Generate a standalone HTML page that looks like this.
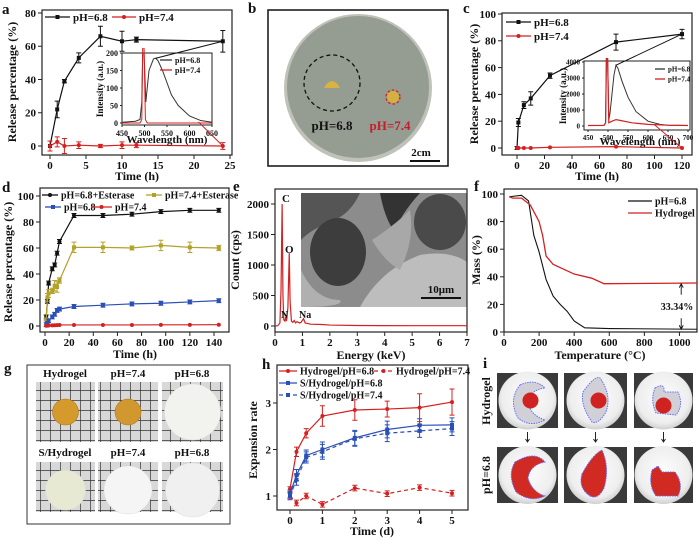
<!DOCTYPE html>
<html><head><meta charset="utf-8">
<style>
html,body{margin:0;padding:0;background:#fff;}
svg{display:block;font-family:"Liberation Serif",serif;font-weight:bold;}
</style></head>
<body>
<svg id="fig" width="700" height="541" viewBox="0 0 700 541" xmlns="http://www.w3.org/2000/svg">
<defs>
<pattern id="grid" width="10" height="10" patternUnits="userSpaceOnUse"><rect width="10" height="10" fill="#d8d8d8"/><path d="M0 0H10M0 0V10" stroke="#333" stroke-width="1.4"/></pattern>
<radialGradient id="plate" cx="50%" cy="45%" r="55%"><stop offset="0" stop-color="#fdfdfd"/><stop offset="0.8" stop-color="#eeeeee"/><stop offset="1" stop-color="#cfcfcf"/></radialGradient>
<clipPath id="clipA"><rect x="122" y="48" width="90" height="77"/></clipPath>
<clipPath id="clipC"><rect x="584" y="58" width="106" height="72"/></clipPath>
</defs>
</svg>
<script>
// ---------- data ----------
const aTime=[0,1,2,4,7,10,12,24];
const a68=[0,22,39,53,66,63,64,63];
const a68err=[3,5,1,3,6,6,1.5,6.5];
const a74=[0,2.5,0,0.5,0,0.5,0.5,0];
const a74err=[3,3,4.5,2,1,2,1.5,2];
const aInsetWl68=[450,480,490,494,496,499,503,510,520,525,530,540,550,560,575,600,625,650];
const aInsetI68=[2,5,10,60,200,200,60,150,183,185,178,150,115,80,50,20,7,2];
const aInsetWl74=[450,490,494,496,499,502,506,650];
const aInsetI74=[0,0,10,215,215,10,0,0];

const cTime=[0,1,5,10,24,72,120];
const c68=[0,19,32,37,54,79,85];
const c68err=[1,3,2.5,5,2,6,3.5];
const c74=[0,0,0,0,0.5,1,0];
const cInsetWl68=[450,490,494,496,499,502,505,510,515,520,525,535,550,570,600,630,650,700];
const cInsetI68=[30,40,200,4300,4300,400,800,2000,3200,3800,3600,2800,1800,900,300,100,50,30];
const cInsetWl74=[450,490,494,496,499,502,510,520,530,560,600,650,700];
const cInsetI74=[30,40,200,4300,4300,200,300,400,350,200,100,50,30];

const dTime=[1,2,3,6,8,10,12,24,48,72,96,120,144];
const d68E=[7,19,33,44,47,56,65,85,85,86,88,89,89];
const d74E=[5,22,25,27,31,30,35,60.5,60.5,60,62,60.5,60];
const d74Eerr=[1,3,3,2,4,4,2,4,4,1.5,4,4,2];
const d68=[1,2,4,7,9,12,13,15,16,17,17.5,18.5,19.5];
const d74=[0.2,0.3,0.4,0.5,0.6,0.7,0.8,0.8,0.8,0.8,0.9,0.9,1];

const eEnergy=[0,0.1,0.18,0.22,0.26,0.29,0.32,0.36,0.39,0.42,0.47,0.52,0.55,0.6,0.65,0.7,0.75,0.8,0.85,0.9,0.95,1.04,1.1,1.3,1.7,2,3,5,7];
const eCount=[0,5,50,600,2000,500,100,80,150,80,300,1200,400,80,60,90,50,70,60,50,60,120,50,30,25,15,8,5,5];

const fTemp68=[30,100,140,170,200,240,280,320,360,400,460,600,1100];
const fMass68=[98,99,95,70,58,38,26,20,15,8,3,2.5,2];
const fTempH=[30,50,100,150,200,220,240,280,400,500,570,1100];
const fMassH=[98,97,97,92,80,70,55,49,42,39,35,35.5];

const hTime=[0,0.2,0.5,1,2,3,4,5];
const hHyd68=[1.15,1.95,2.35,2.72,2.85,2.87,2.9,3.02];
const hHyd68err=[0.05,0.1,0.1,0.22,0.22,0.17,0.3,0.28];
const hHyd74=[1.0,0.85,1.0,0.82,1.17,1.05,1.18,1.06];
const hS68=[1.05,1.45,1.87,2.0,2.25,2.43,2.52,2.53];
const hS74=[1.0,1.35,1.83,1.95,2.23,2.35,2.4,2.45];
const hErrS=[0.08,0.12,0.12,0.16,0.16,0.18,0.14,0.15];

// ---------- helpers ----------
const NS="http://www.w3.org/2000/svg";
const svg=document.getElementById('fig');
function mk(tag,attrs,parent){const e=document.createElementNS(NS,tag);for(const k in attrs)e.setAttribute(k,attrs[k]);(parent||svg).appendChild(e);return e;}
function txt(s,x,y,fs,anchor,fill,rot,name){
  const t=mk('text',{x:x,y:y,'font-size':fs,'text-anchor':anchor||'start',fill:fill||'#111'});
  if(rot) t.setAttribute('transform','rotate(-90 '+x+' '+y+')');
  t.textContent=s;
  
  
  return t;
}
function lin(d0,d1,r0,r1){return v=>r0+(v-d0)*(r1-r0)/(d1-d0);}
function axes(c){
  const g=mk('g',{});
  
  
  const r=mk('rect',{x:c.x0,y:c.y0,width:c.x1-c.x0,height:c.y1-c.y0,fill:'none',stroke:'#222','stroke-width':c.sw||1.2},g);
  
  
  c.xt.forEach(v=>{const X=c.sx(v);mk('line',{x1:X,x2:X,y1:c.y1,y2:c.y1+(c.tl||4),stroke:'#222','stroke-width':1},g);
    txt(String(v),X,c.y1+c.fs+3,c.fs,'middle','#111',0,c.name+'-x-tick-label');});
  c.yt.forEach(v=>{const Y=c.sy(v);mk('line',{x1:c.x0-(c.tl||4),x2:c.x0,y1:Y,y2:Y,stroke:'#222','stroke-width':1},g);
    txt(String(v),c.x0-(c.tl||4)-2,Y+c.fs*0.35,c.fs,'end','#111',0,c.name+'-y-tick-label');});
}
function line(sx,sy,xs,ys,color,w,dash,name){
  const p=mk('polyline',{points:xs.map((x,i)=>sx(x)+','+sy(ys[i])).join(' '),fill:'none',stroke:color,'stroke-width':w||1.2});
  if(dash)p.setAttribute('stroke-dasharray',dash);
  
  
  return p;
}
function series(sx,sy,xs,ys,errs,color,marker,dash,name){
  line(sx,sy,xs,ys,color,1.2,dash,name+'-line');
  xs.forEach((x,i)=>{
    const X=sx(x),Y=sy(ys[i]);
    if(errs){const e=errs[i];const y1=sy(ys[i]+e),y2=sy(ys[i]-e);
      const eb=mk('path',{d:'M'+X+' '+y1+'V'+y2+'M'+(X-2.5)+' '+y1+'H'+(X+2.5)+'M'+(X-2.5)+' '+y2+'H'+(X+2.5),stroke:color,'stroke-width':1,fill:'none'});
      
      }
    let m;
    if(marker==='sq') m=mk('rect',{x:X-2,y:Y-2,width:4,height:4,fill:color});
    else m=mk('circle',{cx:X,cy:Y,r:2,fill:color});
    
    
  });
}
function legend(x1,x2,y,color,label,fs,dash,marker,name){
  const l=mk('line',{x1:x1,x2:x2,y1:y,y2:y,stroke:color,'stroke-width':1.3});
  if(dash)l.setAttribute('stroke-dasharray',dash);
  
  
  if(marker){const m=marker==='sq'?mk('rect',{x:(x1+x2)/2-2,y:y-2,width:4,height:4,fill:color}):mk('circle',{cx:(x1+x2)/2,cy:y,r:2,fill:color});
    
    }
  txt(label,x2+3,y+fs*0.35,fs,'start','#111',0,name+'-text');
}
const RED='#d42020',BLK='#111',BLUE='#2a4fb5',YEL='#b3a22a';

// ---------- panel letters ----------
[['a',2,14],['b',248,13],['c',463,13],['d',2,192],['e',233,191],['f',474,191],['g',4,373],['h',262,369],['i',483,368]].forEach(p=>txt(p[0],p[1],p[2],15,'start','#111',0,'panel-letter-'+p[0]));

// ---------- panel a ----------
{const sx=lin(0,25,50,230),sy=lin(0,80,146,13);
axes({name:'panel-a',x0:42,x1:232,y0:10,y1:155,sx,sy,xt:[0,5,10,15,20,25],yt:[0,20,40,60,80],fs:11});
txt('Release percentage (%)',16,82,12,'middle','#111',1,'panel-a-y-title');
txt('Time (h)',137,180,12,'middle','#111',0,'panel-a-x-title');
series(sx,sy,aTime,a68,a68err,BLK,'sq',null,'a-ph68');
series(sx,sy,aTime,a74,a74err,RED,'c',null,'a-ph74');
legend(45,70,17,BLK,'pH=6.8',11,null,'sq','a-legend-ph68');
legend(112,136,17,RED,'pH=7.4',11,null,'c','a-legend-ph74');
const ix=lin(450,650,122,212),iy=lin(0,200,123,53);
mk('rect',{x:122,y:53,width:90,height:72,fill:'#fff',stroke:'#222','stroke-width':1});
axes({name:'panel-a-inset',x0:122,x1:212,y0:53,y1:125,sx:ix,sy:iy,xt:[450,500,550,600,650],yt:[0,50,100,150,200],fs:8,tl:2,sw:1});
const l1=line(ix,iy,aInsetWl68,aInsetI68,'#333',1,null,'a-inset-ph68');
l1.setAttribute('clip-path','url(#clipA)');
const l2=line(ix,iy,aInsetWl74,aInsetI74,RED,1,null,'a-inset-ph74');
l2.setAttribute('clip-path','url(#clipA)');
txt('Intensity (a.u.)',103,89,9,'middle','#111',1,'a-inset-y-title');
txt('Wavelength (nm)',167,143,11,'middle','#111',0,'a-inset-x-title');
legend(160,172,60,'#333','pH=6.8',8,null,null,'a-inset-legend-ph68');
legend(160,172,70,RED,'pH=7.4',8,null,null,'a-inset-legend-ph74');
mk('line',{x1:ix(525),y1:iy(185),x2:sx(24),y2:sy(63),stroke:BLK,'stroke-width':1});
mk('line',{x1:ix(620),y1:iy(3),x2:sx(24),y2:sy(0),stroke:RED,'stroke-width':1});}

// ---------- panel b ----------
{const g=mk('g',{});
mk('rect',{x:268,y:10,width:180,height:156,fill:'#fff',stroke:'#111','stroke-width':1.5},g);
mk('circle',{cx:358,cy:88,r:74,fill:'#bfc2b8'},g);
mk('circle',{cx:358,cy:87,r:71,fill:'#959c91'},g);
mk('circle',{cx:332,cy:83,r:28,fill:'none',stroke:'#111','stroke-width':1.3,'stroke-dasharray':'4 3'},g);
mk('path',{d:'M324 88 Q332 74 340 88 Z',fill:'#d8b340'},g);
mk('circle',{cx:393,cy:97,r:6,fill:'#d4b040'},g);
mk('circle',{cx:393,cy:97,r:7,fill:'none',stroke:RED,'stroke-width':1.3,'stroke-dasharray':'2.5 2'},g);
txt('pH=6.8',332,130,13,'middle','#111',0,'b-label-ph68');
txt('pH=7.4',390,130,13,'middle','#c0202a',0,'b-label-ph74');
txt('2cm',421,156,11,'middle','#111',0,'b-scale-label');
mk('line',{x1:410,x2:440,y1:161,y2:161,stroke:'#111','stroke-width':2},g);}

// ---------- panel c ----------
{const sx=lin(0,120,517,682),sy=lin(0,100,148,14);
axes({name:'panel-c',x0:502,x1:692,y0:13,y1:155,sx,sy,xt:[0,20,40,60,80,100,120],yt:[0,20,40,60,80,100],fs:11});
txt('Release percentage (%)',478,84,12,'middle','#111',1,'panel-c-y-title');
txt('Time (h)',597,180,12,'middle','#111',0,'panel-c-x-title');
series(sx,sy,cTime,c68,c68err,BLK,'sq',null,'c-ph68');
series(sx,sy,cTime,c74,null,RED,'c',null,'c-ph74');
legend(506,531,22,BLK,'pH=6.8',11,null,'sq','c-legend-ph68');
legend(506,531,36,RED,'pH=7.4',11,null,'c','c-legend-ph74');
const ix=lin(450,700,588,688),iy=lin(0,4000,126,62);
mk('rect',{x:584,y:61,width:106,height:69,fill:'#fff',stroke:'#222','stroke-width':1});
axes({name:'panel-c-inset',x0:584,x1:690,y0:61,y1:130,sx:ix,sy:iy,xt:[450,500,550,600,650,700],yt:[0,1000,2000,3000,4000],fs:7,tl:2,sw:1});
const l1=line(ix,iy,cInsetWl68,cInsetI68,'#333',1,null,'c-inset-ph68');
l1.setAttribute('clip-path','url(#clipC)');
const l2=line(ix,iy,cInsetWl74,cInsetI74,RED,1.2,null,'c-inset-ph74');
l2.setAttribute('clip-path','url(#clipC)');
txt('Intensity (a.u.)',566,96,9,'middle','#111',1,'c-inset-y-title');
txt('Wavelength (nm)',640,145,11,'middle','#111',0,'c-inset-x-title');
legend(655,665,69,'#333','pH=6.8',7,null,null,'c-inset-legend-ph68');
legend(655,665,79,RED,'pH=7.4',7,null,null,'c-inset-legend-ph74');
mk('line',{x1:ix(520),y1:iy(3800),x2:sx(120),y2:sy(85),stroke:BLK,'stroke-width':1});
mk('line',{x1:ix(615),y1:iy(100),x2:sx(120),y2:sy(0),stroke:RED,'stroke-width':1});}

// ---------- panel d ----------
{const sx=lin(0,140,45,214),sy=lin(0,100,326,196);
axes({name:'panel-d',x0:40,x1:229,y0:188,y1:332,sx,sy,xt:[0,20,40,60,80,100,120,140],yt:[0,20,40,60,80,100],fs:11});
txt('Release percentage (%)',12,262,12,'middle','#111',1,'panel-d-y-title');
txt('Time (h)',135,358,12,'middle','#111',0,'panel-d-x-title');
series(sx,sy,dTime,d68E,dTime.map(()=>1.5),BLK,'c',null,'d-ph68-esterase');
series(sx,sy,dTime,d74E,d74Eerr,YEL,'sq',null,'d-ph74-esterase');
series(sx,sy,dTime,d68,dTime.map(()=>1.5),BLUE,'sq',null,'d-ph68');
series(sx,sy,dTime,d74,null,RED,'c',null,'d-ph74');
legend(42,58,195,BLK,'pH=6.8+Esterase',10,null,'c','d-legend-ph68-esterase');
legend(146,162,195,YEL,'pH=7.4+Esterase',10,null,'sq','d-legend-ph74-esterase');
legend(45,61,207,BLUE,'pH=6.8',10,null,'sq','d-legend-ph68');
legend(91,112,207,RED,'pH=7.4',10,null,'c','d-legend-ph74');}

// ---------- panel e ----------
{const sx=lin(0,7,275,467),sy=lin(0,2000,326,204);
const g=mk('g',{});
mk('rect',{x:301,y:193,width:166,height:114,fill:'#8c8c8c'},g);
mk('path',{d:'M301 193H360Q350 215 330 222Q310 230 301 240Z',fill:'#555'},g);
mk('ellipse',{cx:338,cy:252,rx:28,ry:34,fill:'#3d3d3d'},g);
mk('ellipse',{cx:440,cy:222,rx:26,ry:28,fill:'#4a4a4a'},g);
mk('path',{d:'M380 193H420Q400 215 395 232Q385 220 380 193Z',fill:'#333'},g);
mk('path',{d:'M360 307Q380 270 420 255Q450 250 467 262V307Z',fill:'#bdbdbd'},g);
mk('path',{d:'M372 240Q395 225 410 210Q415 240 400 270Q385 262 372 240Z',fill:'#a8a8a8'},g);
mk('path',{d:'M301 270Q315 300 340 300Q345 307 301 307Z',fill:'#b0b0b0'},g);
mk('line',{x1:421,x2:461,y1:298,y2:298,stroke:'#111','stroke-width':2},g);
txt('10μm',441,293,11,'middle','#111',0,'e-scale-label');
axes({name:'panel-e',x0:275,x1:467,y0:189,y1:332,sx,sy,xt:[0,1,2,3,4,5,6,7],yt:[0,500,1000,1500,2000],fs:11});
line(sx,sy,eEnergy,eCount,RED,1.2,null,'e-eds-spectrum');
txt('C',282,202,11,'start','#111',0,'e-peak-c');
txt('O',285,253,11,'start','#111',0,'e-peak-o');
txt('N',281,318,10,'start','#111',0,'e-peak-n');
txt('Na',299,318,10,'start','#111',0,'e-peak-na');
txt('Count (cps)',239,260,12,'middle','#111',1,'panel-e-y-title');
txt('Energy (keV)',371,359,12,'middle','#111',0,'panel-e-x-title');}

// ---------- panel f ----------
{const sx=lin(0,1100,504,697),sy=lin(0,100,332,194);
axes({name:'panel-f',x0:504,x1:697,y0:189,y1:332,sx,sy,xt:[0,200,400,600,800,1000],yt:[0,20,40,60,80,100],fs:11});
line(sx,sy,fTemp68,fMass68,BLK,1.1,null,'f-ph68-curve');
line(sx,sy,fTempH,fMassH,RED,1.3,null,'f-hydrogel-curve');
legend(628,652,201,BLK,'pH=6.8',10,null,null,'f-legend-ph68');
legend(628,652,213,RED,'Hydrogel',10,null,null,'f-legend-hydrogel');
const ax=sx(1010);
mk('path',{d:'M'+ax+' '+sy(35)+'V'+sy(27)+'M'+ax+' '+sy(10)+'V'+sy(2)+'M'+(ax-2)+' '+(sy(35)+4)+'L'+ax+' '+sy(35)+'L'+(ax+2)+' '+(sy(35)+4)+'M'+(ax-2)+' '+(sy(2)-4)+'L'+ax+' '+sy(2)+'L'+(ax+2)+' '+(sy(2)-4),stroke:'#111',fill:'none','stroke-width':0.9});
txt('33.34%',677,310,10,'middle','#111',0,'f-annotation');
txt('Mass (%)',480,260,12,'middle','#111',1,'panel-f-y-title');
txt('Temperature (°C)',600,359,12,'middle','#111',0,'panel-f-x-title');}

// ---------- panel g ----------
{const g=mk('g',{});
mk('rect',{x:27,y:365,width:203,height:159,fill:'#fff',stroke:'#333','stroke-width':1},g);
const cols=[[36,95],[98,158],[162,223]];
const rows=[[382,442],[462,512]];
const disks=[[['#d49a2c',13],['#d29830',13],['#f2f2ee',28]],[['#e7e9d2',20],['#f5f5f5',24],['#f0f0f0',27]]];
rows.forEach((r,ri)=>cols.forEach((c,ci)=>{
  mk('rect',{x:c[0],y:r[0],width:c[1]-c[0],height:r[1]-r[0],fill:'url(#grid)'},g);
  const d=disks[ri][ci];
  mk('circle',{cx:(c[0]+c[1])/2,cy:(r[0]+r[1])/2+(ri?3:0),r:d[1],fill:d[0],stroke:ri||ci==2?'#ddd':'#b0761a','stroke-width':0.6},g);
}));
[['Hydrogel',65,377],['pH=7.4',128,377],['pH=6.8',192,377],['S/Hydrogel',65,456],['pH=7.4',128,456],['pH=6.8',192,456]].forEach(l=>txt(l[0],l[1],l[2],11,'middle','#111',0,'g-photo-label'));}

// ---------- panel h ----------
{const sx=lin(0,5,290,452),sy=lin(1,3,496,403);
axes({name:'panel-h',x0:277,x1:468,y0:365,y1:510,sx,sy,xt:[0,1,2,3,4,5],yt:[1,2,3],fs:11});
txt('Expansion rate',257,440,12,'middle','#111',1,'panel-h-y-title');
txt('Time (d)',372,535,12,'middle','#111',0,'panel-h-x-title');
series(sx,sy,hTime,hHyd68,hHyd68err,RED,'c',null,'h-hydrogel-ph68');
series(sx,sy,hTime,hHyd74,hTime.map(()=>0.06),RED,'c','4 3','h-hydrogel-ph74');
series(sx,sy,hTime,hS68,hErrS,BLUE,'sq',null,'h-s-hydrogel-ph68');
series(sx,sy,hTime,hS74,hErrS,BLUE,'sq','4 3','h-s-hydrogel-ph74');
legend(279,297,371,RED,'Hydrogel/pH=6.8',10,null,'c','h-legend-hydrogel-ph68');
legend(374,393,371,RED,'Hydrogel/pH=7.4',10,'4 3','c','h-legend-hydrogel-ph74');
legend(279,297,383,BLUE,'S/Hydrogel/pH=6.8',10,null,'sq','h-legend-s-hydrogel-ph68');
legend(279,297,395,BLUE,'S/Hydrogel/pH=7.4',10,'4 3','sq','h-legend-s-hydrogel-ph74');}

// ---------- panel i ----------
{const g=mk('g',{});
const cols=[[497,558],[564,627],[634,693]];
const rows=[[373,428],[447,503]];
const shapes=[
 ['M520 385Q535 378 545 388Q530 390 528 402Q530 415 545 420Q530 428 518 418Q508 400 520 385Z','M583 392Q595 375 600 378Q612 395 606 412Q598 425 592 422Q580 405 583 392Z','M655 388Q665 382 664 392L678 392Q684 405 676 415L656 413Q650 400 655 388Z'],
 ['M515 462Q535 450 545 462Q530 465 528 478Q532 492 545 496Q530 503 516 492Q507 475 515 462Z','M582 474Q592 455 602 450Q610 468 604 488Q598 500 590 496Q578 488 582 474Z','M652 470L658 466L662 472L675 472Q684 484 678 496L656 496Q648 485 652 470Z']];
rows.forEach((r,ri)=>cols.forEach((c,ci)=>{
  mk('rect',{x:c[0],y:r[0],width:c[1]-c[0],height:r[1]-r[0],fill:'#3a3a3a'},g);
  mk('circle',{cx:(c[0]+c[1])/2,cy:(r[0]+r[1])/2,r:29,fill:'url(#plate)'},g);
  mk('path',{d:shapes[ri][ci],fill:ri?'#d12a22':'#d0d0d6',stroke:'#6670ff','stroke-width':1,'stroke-dasharray':'1.5 1'},g);
  if(!ri) mk('circle',{cx:(c[0]+c[1])/2+(ci==2?0:3),cy:(r[0]+r[1])/2+(ci==2?5:0),r:8,fill:'#d12222'},g);
  const X=(c[0]+c[1])/2;
  if(!ri) mk('path',{d:'M'+X+' 432V442M'+(X-2)+' 439L'+X+' 442L'+(X+2)+' 439',stroke:'#222',fill:'none','stroke-width':1},g);
}));
txt('Hydrogel',490,401,12,'middle','#111',1,'i-row-label-hydrogel');
txt('pH=6.8',490,475,12,'middle','#111',1,'i-row-label-ph68');}
</script>
</body></html>
